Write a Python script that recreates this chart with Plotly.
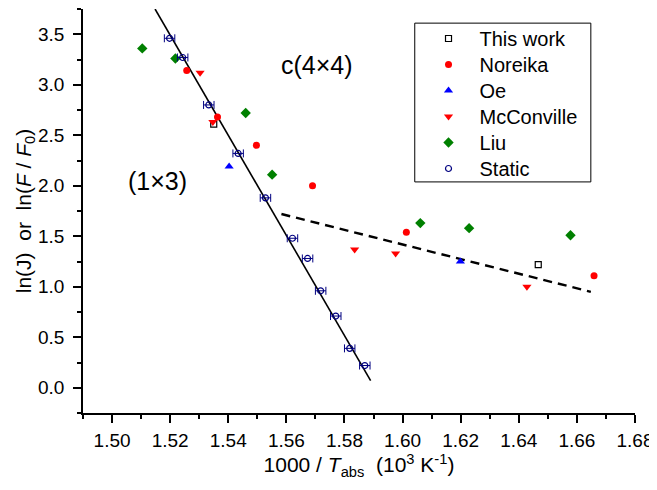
import plotly.graph_objects as go

# ---- data ----
this_work_x = [1.5350, 1.6467]
this_work_y = [2.61, 1.22]

noreika_x = [1.5257, 1.5363, 1.5497, 1.5690, 1.6013, 1.6659]
noreika_y = [3.14, 2.68, 2.40, 2.00, 1.54, 1.11]

oe_x = [1.5403, 1.6199]
oe_y = [2.19, 1.25]

mcconville_x = [1.5303, 1.5347, 1.5835, 1.5976, 1.6428]
mcconville_y = [3.12, 2.63, 1.37, 1.33, 1.00]

liu_x = [1.5104, 1.5218, 1.5460, 1.5551, 1.6061, 1.6229, 1.6578]
liu_y = [3.36, 3.26, 2.72, 2.11, 1.63, 1.58, 1.51]

static_x = [1.5198, 1.5243, 1.5333, 1.5434, 1.5528, 1.5621, 1.5673, 1.5718, 1.5770, 1.5818, 1.5870]
static_y = [3.46, 3.27, 2.80, 2.32, 1.88, 1.48, 1.28, 0.96, 0.71, 0.39, 0.22]
static_xerr = [0.0018] * len(static_x)

fit_steep_x = [1.5148, 1.5890]
fit_steep_y = [3.75, 0.07]

fit_shallow_x = [1.5583, 1.6648]
fit_shallow_y = [1.72, 0.95]

x_ticks = [1.50, 1.52, 1.54, 1.56, 1.58, 1.60, 1.62, 1.64, 1.66, 1.68]
y_ticks = [0.0, 0.5, 1.0, 1.5, 2.0, 2.5, 3.0, 3.5]

FONT = "Liberation Sans, Arial, sans-serif"

# the page body has an 8px margin: shrink the figure to compensate
W, H = 649, 482
ML, MR, MT, MB = 75, 22, 1, 77
PLOT_H = H - MT - MB

fig = go.Figure()

# fit lines
fig.add_trace(go.Scatter(x=fit_steep_x, y=fit_steep_y, mode="lines",
                         line=dict(color="black", width=1.6), showlegend=False,
                         hoverinfo="skip"))
fig.add_trace(go.Scatter(x=fit_shallow_x, y=fit_shallow_y, mode="lines",
                         line=dict(color="black", width=2.4, dash="9px,6px"),
                         showlegend=False, hoverinfo="skip"))

series = [
    ("This work", this_work_x, this_work_y,
     dict(symbol="square-open", size=6, color="black", line=dict(width=1.2, color="black")), None),
    ("Noreika", noreika_x, noreika_y,
     dict(symbol="circle", size=7, color="#ff0000", line=dict(width=0)), None),
    ("Oe", oe_x, oe_y,
     dict(symbol="triangle-up", size=8, color="#0000ff", line=dict(width=0)), None),
    ("McConville", mcconville_x, mcconville_y,
     dict(symbol="triangle-down", size=8, color="#ff0000", line=dict(width=0)), None),
    ("Liu", liu_x, liu_y,
     dict(symbol="diamond", size=8, color="#008000", line=dict(width=0)), None),
    ("Static", static_x, static_y,
     dict(symbol="circle-open", size=6, color="#000080", line=dict(width=1.2, color="#000080")),
     dict(type="data", array=static_xerr, visible=True, color="#000080", thickness=1, width=4)),
]

# legend row centres, in page pixels from the top of the plot area
row_px = [29.5, 55.5, 81.5, 107.5, 133.5, 159.5]

legend_layouts = {}
for i, (name, xs, ys, mk, err) in enumerate(series):
    lname = "legend" if i == 0 else f"legend{i + 1}"
    kw = dict(x=xs, y=ys, mode="markers", name=name, marker=mk, legend=lname)
    if err is not None:
        kw["error_x"] = err
    fig.add_trace(go.Scatter(**kw))
    legend_layouts[lname] = dict(
        x=0.606, y=1 - row_px[i] / PLOT_H, xanchor="left", yanchor="middle",
        bgcolor="rgba(0,0,0,0)", borderwidth=0, itemwidth=52,
        font=dict(family=FONT, size=20, color="black"))

axis_common = dict(
    showline=True, linecolor="black", linewidth=1.5,
    ticks="outside", ticklen=8, tickwidth=1.5, tickcolor="black",
    showgrid=False, zeroline=False, mirror=False, automargin=False,
    tickfont=dict(family=FONT, size=19, color="black"),
)

fig.update_xaxes(range=[1.49, 1.68], tickvals=x_ticks, tickformat=".2f",
                 ticklabelstandoff=1,
                 minor=dict(dtick=0.01, tick0=1.49, ticks="outside", ticklen=4,
                            tickwidth=1.5, tickcolor="black"),
                 title=dict(text="1000 / <i>T</i><sub>abs</sub>\u00a0\u00a0(10<sup>3</sup> K<sup>-1</sup>)",
                            font=dict(family=FONT, size=21, color="black"), standoff=1),
                 **axis_common)
fig.update_yaxes(range=[-0.25, 3.75], tickvals=y_ticks, tickformat=".1f",
                 ticklabelstandoff=5,
                 minor=dict(dtick=0.25, tick0=-0.25, ticks="outside", ticklen=4,
                            tickwidth=1.5, tickcolor="black"),
                 title=dict(text="ln(J)\u00a0\u00a0or\u00a0\u00a0ln(<i>F</i> / <i>F</i><sub>0</sub>)",
                            font=dict(family=FONT, size=21, color="black"), standoff=0),
                 **axis_common)

fig.add_annotation(x=1.5707, y=3.20, text="c(4×4)", showarrow=False,
                   font=dict(family=FONT, size=25, color="black"))
fig.add_annotation(x=1.5156, y=2.05, text="(1×3)", showarrow=False,
                   font=dict(family=FONT, size=25, color="black"))

# legend frame
fig.add_shape(type="rect", xref="paper", yref="paper",
              x0=0.601, x1=0.920, y0=0.572, y1=0.965,
              line=dict(color="black", width=1), fillcolor="rgba(0,0,0,0)")

fig.update_layout(
    width=W, height=H,
    margin=dict(l=ML, r=MR, t=MT, b=MB),
    plot_bgcolor="white", paper_bgcolor="white",
    font=dict(family=FONT, color="black"),
    **legend_layouts,
)

fig.write_html("out.html")
